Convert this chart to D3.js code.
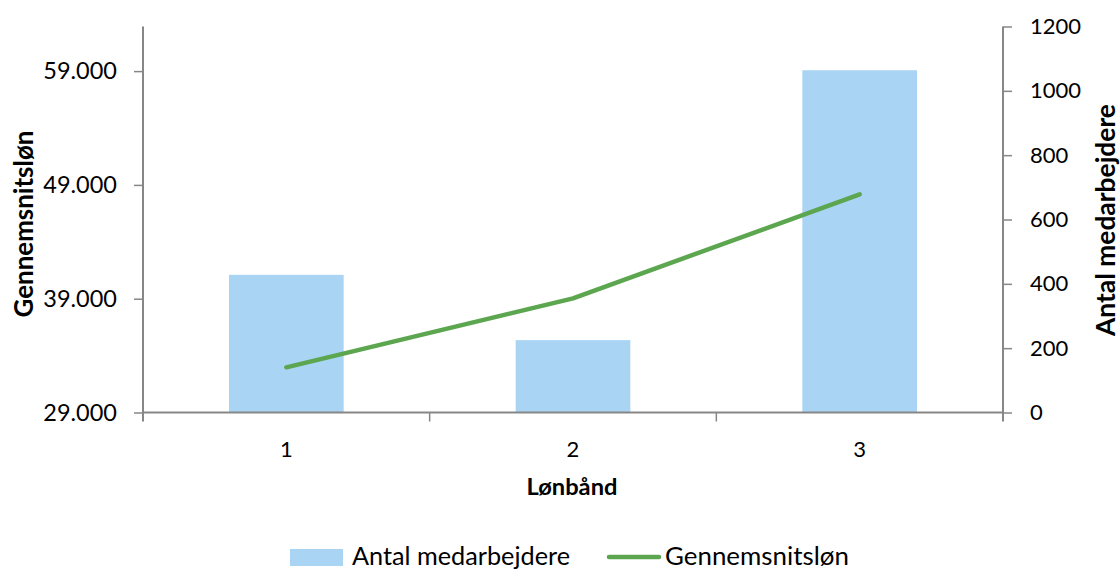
<!DOCTYPE html>
<html><head><meta charset="utf-8">
<script src="https://cdn.jsdelivr.net/npm/d3@7"></script>
<style>body{margin:0;background:#fff;}svg{display:block;font-family:Lato,"Open Sans",sans-serif;}</style>
</head><body><svg id="c" width="1120" height="572"></svg>
<script>
const categories = ["1","2","3"];
const employees = [428, 225, 1064];
const avgSalary = [32970, 39030, 48170];
const leftTicks = [29000, 39000, 49000, 59000];
const rightTicks = [0, 200, 400, 600, 800, 1000, 1200];
const seriesNames = ["Antal medarbejdere", "Gennemsnitsløn"];
const axisTitles = {left: "Gennemsnitsløn", right: "Antal medarbejdere", x: "Lønbånd"};

const svg = d3.select("#c");
const L = 143, R = 1003, T = 26.5, B = 412.5;
const axisColor = "#878787", barColor = "#A9D4F4", lineColor = "#5BA64F";

// fit a text element's font size so that its length equals target px
function fit(sel, target) {
  const n = sel.node();
  const fs = parseFloat(sel.attr("font-size"));
  const w = n.getComputedTextLength();
  if (w > 0) sel.attr("font-size", fs * target / w);
  return sel;
}

const x = d3.scaleBand().domain(categories).range([L, R]).paddingInner(0.6).paddingOuter(0.3);
const yL = d3.scaleLinear().domain([29000, 62920]).range([B, T]);
const yR = d3.scaleLinear().domain([0, 1200]).range([B, T]);

// bars
svg.append("g").selectAll("rect").data(categories).join("rect")
  .attr("x", d => x(d)).attr("width", x.bandwidth())
  .attr("y", (d,i) => yR(employees[i])).attr("height", (d,i) => B - yR(employees[i]))
  .attr("fill", barColor);

// line
const line = d3.line().x((d,i) => x(categories[i]) + x.bandwidth()/2).y(d => yL(d));
svg.append("path").datum(avgSalary).attr("d", line)
  .attr("fill", "none").attr("stroke", lineColor).attr("stroke-width", 4.5)
  .attr("stroke-linecap", "round").attr("stroke-linejoin", "round");

const fmtL = d => d3.format(",")(d).replace(/,/g, ".");
const fmtR = d => String(d);

// left axis
const gl = svg.append("g").attr("transform", `translate(${L},0)`)
  .call(d3.axisLeft(yL).tickValues(leftTicks).tickFormat(fmtL).tickSizeOuter(0).tickSize(9).tickPadding(17));
gl.select(".domain").remove();
gl.selectAll("line").attr("stroke", axisColor).attr("stroke-width", 1.5);
gl.selectAll("text").attr("font-size", 23.5).attr("fill", "#000").attr("font-family", "Lato");
svg.append("line").attr("x1", L).attr("x2", L).attr("y1", T).attr("y2", B + 9).attr("stroke", axisColor).attr("stroke-width", 2);

// right axis
const gr = svg.append("g").attr("transform", `translate(${R},0)`)
  .call(d3.axisRight(yR).tickValues(rightTicks).tickFormat(fmtR).tickSizeOuter(0).tickSize(9).tickPadding(18));
gr.select(".domain").remove();
gr.selectAll("line").attr("stroke", axisColor).attr("stroke-width", 1.5);
gr.selectAll("text").attr("font-size", 22).attr("fill", "#000").attr("font-family", "Lato");
svg.append("line").attr("x1", R).attr("x2", R).attr("y1", T).attr("y2", B + 9).attr("stroke", axisColor).attr("stroke-width", 2);

// x axis
svg.append("line").attr("x1", L).attr("x2", R).attr("y1", B).attr("y2", B).attr("stroke", axisColor).attr("stroke-width", 2);
const step = x.step();
const bounds = d3.range(1, categories.length).map(i => L + i*step);
svg.append("g").selectAll("line").data(bounds).join("line")
  .attr("x1", d => d).attr("x2", d => d).attr("y1", B).attr("y2", B + 9)
  .attr("stroke", axisColor).attr("stroke-width", 1.5);
svg.append("g").selectAll("text").data(categories).join("text")
  .attr("x", d => x(d) + x.bandwidth()/2).attr("y", 457).attr("text-anchor", "middle")
  .attr("font-size", 22).text(d => d);

// axis titles
fit(svg.append("text").attr("transform", `translate(23,224) rotate(-90)`)
  .attr("text-anchor", "middle").attr("dominant-baseline", "central")
  .attr("font-size", 20).attr("font-weight", "bold").text(axisTitles.left), 187);
fit(svg.append("text").attr("transform", `translate(1105,220) rotate(-90)`)
  .attr("text-anchor", "middle").attr("dominant-baseline", "central")
  .attr("font-size", 20).attr("font-weight", "bold").text(axisTitles.right), 232);
fit(svg.append("text").attr("x", 572).attr("y", 495).attr("text-anchor", "middle")
  .attr("font-size", 20).attr("font-weight", "bold").text(axisTitles.x), 91);

// legend
const lg = svg.append("g");
lg.append("rect").attr("x", 290).attr("y", 549).attr("width", 53).attr("height", 17).attr("fill", barColor);
fit(lg.append("text").attr("x", 352).attr("y", 565).attr("font-size", 22).text(seriesNames[0]), 218);
lg.append("line").attr("x1", 609).attr("x2", 659).attr("y1", 557).attr("y2", 557)
  .attr("stroke", lineColor).attr("stroke-width", 4.5).attr("stroke-linecap", "round");
fit(lg.append("text").attr("x", 665).attr("y", 565).attr("font-size", 22).text(seriesNames[1]), 184);
</script></body></html>
